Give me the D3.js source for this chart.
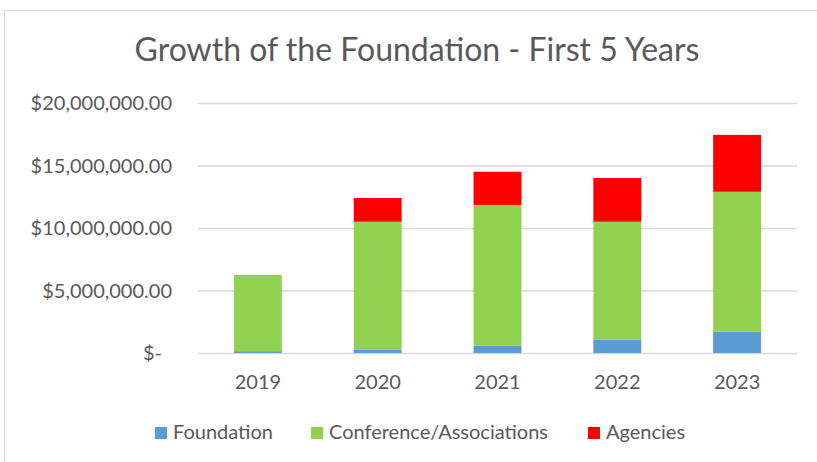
<!DOCTYPE html>
<html>
<head>
<meta charset="utf-8">
<script src="https://cdn.jsdelivr.net/npm/d3@7"></script>
<style>
  html, body { margin: 0; padding: 0; background: #fff; }
  svg { display: block; font-family: Lato, "Open Sans", sans-serif; }
</style>
</head>
<body>
<svg id="chart" width="817" height="462"></svg>
<script>
// values
const years = ["2019", "2020", "2021", "2022", "2023"];
const foundation = [150000, 250000, 600000, 1050000, 1700000];
const conference = [6100000, 10250000, 11250000, 9450000, 11200000];
const agencies = [0, 1900000, 2650000, 3500000, 4550000];
const yTicks = [0, 5000000, 10000000, 15000000, 20000000];

const seriesNames = ["Foundation", "Conference/Associations", "Agencies"];
const seriesColors = ["#5B9BD5", "#92D050", "#FF0000"];

const svg = d3.select("#chart");

// chart frame (right and bottom edges fall outside the picture)
svg.append("rect")
  .attr("x", 4.5).attr("y", 10.5)
  .attr("width", 830).attr("height", 470)
  .attr("fill", "#fff").attr("stroke", "#d9d9d9");

svg.append("text")
  .attr("x", 417).attr("y", 61)
  .attr("text-anchor", "middle")
  .attr("fill", "#595959")
  .attr("font-size", 32)
  .text("Growth of the Foundation - First 5 Years");

const x = d3.scaleBand().domain(years).range([198, 797]).paddingInner(0.6).paddingOuter(0.3);
const y = d3.scaleLinear().domain([0, 20000000]).range([353, 103]);

// gridlines
svg.append("g").selectAll("line").data(yTicks).join("line")
  .attr("x1", 198).attr("x2", 797)
  .attr("y1", d => y(d) + 0.5).attr("y2", d => y(d) + 0.5)
  .attr("stroke", "#d9d9d9").attr("stroke-width", 1.3);

const fmt = d => d === 0 ? "$-" : "$" + d3.format(",.2f")(d);
svg.append("g").selectAll("text").data(yTicks).join("text")
  .attr("x", d => d === 0 ? 162 : 172).attr("y", d => y(d) + 7)
  .attr("text-anchor", "end")
  .attr("fill", "#595959").attr("font-size", 20)
  .text(fmt);

const rows = years.map((yr, i) => ({
  year: yr, Foundation: foundation[i],
  "Conference/Associations": conference[i], Agencies: agencies[i]
}));
const stacked = d3.stack().keys(seriesNames)(rows);

svg.append("g").selectAll("g").data(stacked).join("g")
  .attr("fill", (d, i) => seriesColors[i])
  .selectAll("rect").data(d => d).join("rect")
  .attr("x", d => x(d.data.year))
  .attr("width", x.bandwidth())
  .attr("y", d => y(d[1]))
  .attr("height", d => y(d[0]) - y(d[1]));

// x axis labels
svg.append("g").selectAll("text").data(years).join("text")
  .attr("x", d => x(d) + x.bandwidth() / 2).attr("y", 389)
  .attr("text-anchor", "middle")
  .attr("fill", "#595959").attr("font-size", 20)
  .text(d => d);

// legend
const legendX = [155, 311, 588];
const lg = svg.append("g").selectAll("g").data(seriesNames).join("g")
  .attr("transform", (d, i) => `translate(${legendX[i]},439)`);
lg.append("rect").attr("x", 0).attr("y", -12).attr("width", 12).attr("height", 12)
  .attr("fill", (d, i) => seriesColors[i]);
lg.append("text").attr("x", 18).attr("y", 0)
  .attr("fill", "#595959").attr("font-size", 20)
  .text(d => d);
</script>
</body>
</html>
